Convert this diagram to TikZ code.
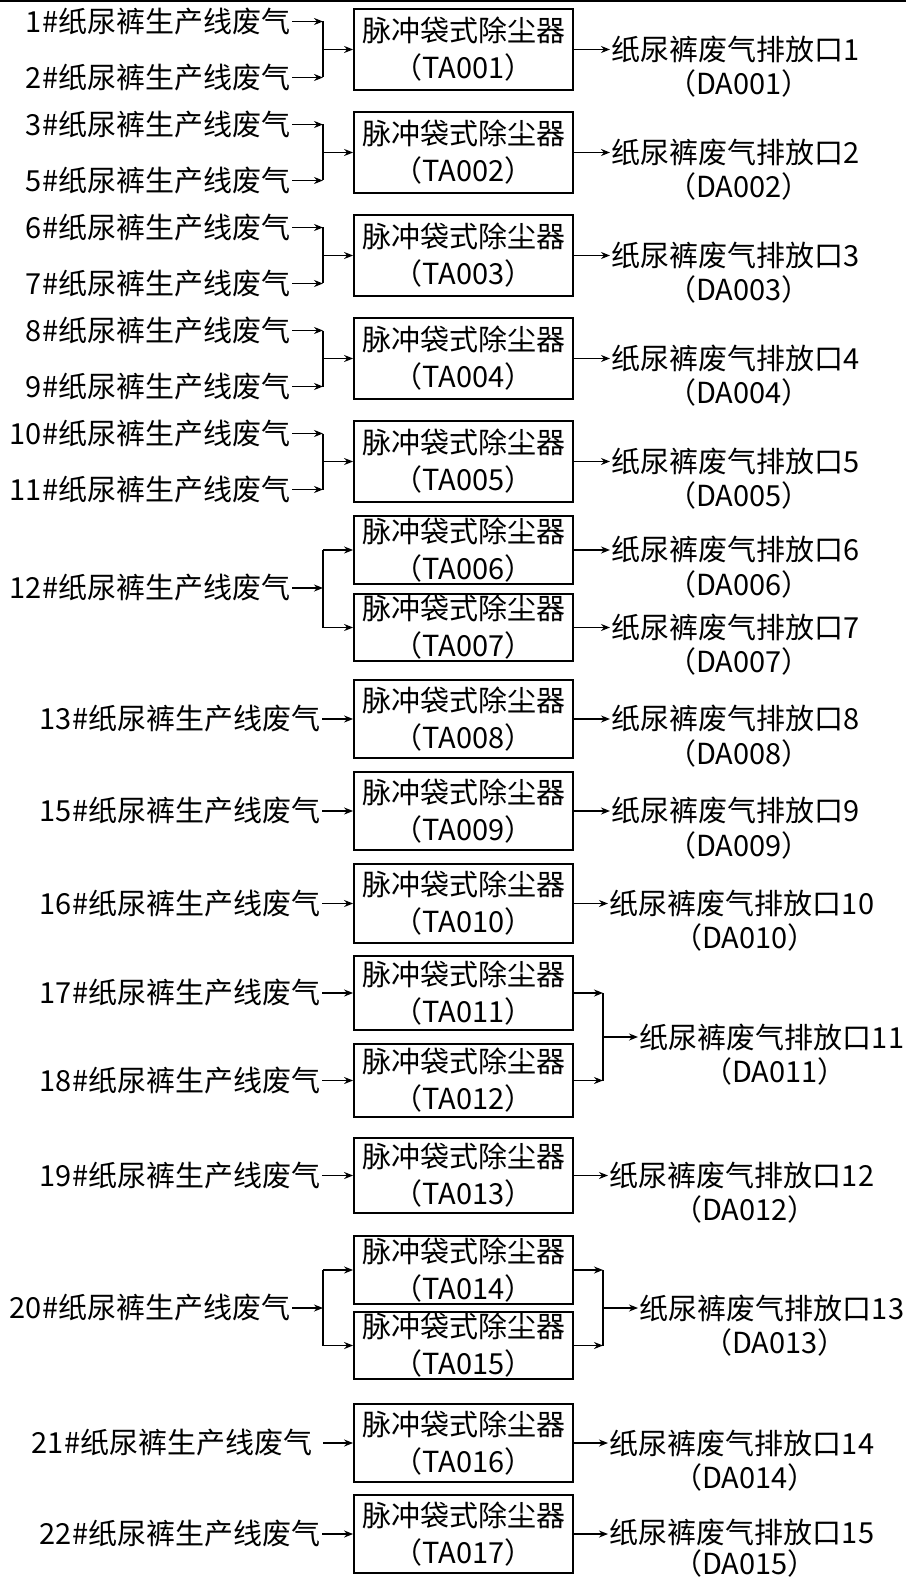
\documentclass[tikz,border=0pt]{standalone}
\usepackage{fontspec}
\setmainfont{Noto Sans CJK SC}
\usetikzlibrary{arrows.meta}

\begin{document}
\begin{tikzpicture}[x=1pt, y=-1pt, line width=1.8pt,
    every node/.style={font=\fontsize{29pt}{37pt}\selectfont, inner sep=1pt},
    box/.style={draw, minimum width=219pt, align=center, inner sep=0pt},
    src/.style={anchor=east},
    outlet/.style={anchor=west},
    flow/.style={-{Stealth[length=9pt,width=7pt]}}]

    \useasboundingbox (0,0) rectangle (906,1578);
    \draw[line width=2pt] (0,1) -- (906,1);

    % dust collectors
    \foreach \i/\top/\bot in {1/9/90, 2/112/193, 3/215/296, 4/318/399, 5/421/502,
        6/516/584, 7/594/661, 8/680/758, 9/772/850, 10/864/943, 11/956/1030,
        12/1044/1117, 13/1138/1213, 14/1236/1304, 15/1312/1379, 16/1404/1482, 17/1495/1573}
        \node[box, minimum height={(\bot-\top)*1pt}] (b\i) at (463.5,{(\top+\bot)/2})
            {脉冲袋式除尘器\\（TA0\ifnum\i<10 0\fi\i）};

    % production lines
    \node[src] (l1) at (292,21.5) {1\#纸尿裤生产线废气};
    \node[src] (l2) at (292,77.5) {2\#纸尿裤生产线废气};
    \node[src] (l3) at (292,124.5) {3\#纸尿裤生产线废气};
    \node[src] (l5) at (292,180.5) {5\#纸尿裤生产线废气};
    \node[src] (l6) at (292,227.5) {6\#纸尿裤生产线废气};
    \node[src] (l7) at (292,283.5) {7\#纸尿裤生产线废气};
    \node[src] (l8) at (292,330.5) {8\#纸尿裤生产线废气};
    \node[src] (l9) at (292,386.5) {9\#纸尿裤生产线废气};
    \node[src] (l10) at (292,433.5) {10\#纸尿裤生产线废气};
    \node[src] (l11) at (292,489.5) {11\#纸尿裤生产线废气};
    \node[src] (l12) at (292,588) {12\#纸尿裤生产线废气};
    \node[src] (l13) at (322,719) {13\#纸尿裤生产线废气};
    \node[src] (l15) at (322,811) {15\#纸尿裤生产线废气};
    \node[src] (l16) at (322,903.5) {16\#纸尿裤生产线废气};
    \node[src] (l17) at (322,993) {17\#纸尿裤生产线废气};
    \node[src] (l18) at (322,1080.5) {18\#纸尿裤生产线废气};
    \node[src] (l19) at (322,1175.5) {19\#纸尿裤生产线废气};
    \node[src] (l20) at (292,1308) {20\#纸尿裤生产线废气};
    \node[src] (l21) at (314,1443) {21\#纸尿裤生产线废气};
    \node[src] (l22) at (322,1534) {22\#纸尿裤生产线废气};

    % outlets
    \node[outlet] (o1) at (610,49.5) {纸尿裤废气排放口1};
    \node[outlet] (o2) at (610,152.5) {纸尿裤废气排放口2};
    \node[outlet] (o3) at (610,255.5) {纸尿裤废气排放口3};
    \node[outlet] (o4) at (610,358.5) {纸尿裤废气排放口4};
    \node[outlet] (o5) at (610,461.5) {纸尿裤废气排放口5};
    \node[outlet] (o6) at (610,550) {纸尿裤废气排放口6};
    \node[outlet] (o7) at (610,627.5) {纸尿裤废气排放口7};
    \node[outlet] (o8) at (610,719) {纸尿裤废气排放口8};
    \node[outlet] (o9) at (610,811) {纸尿裤废气排放口9};
    \node[outlet] (o10) at (608,903.5) {纸尿裤废气排放口10};
    \node[outlet] (o11) at (638,1037) {纸尿裤废气排放口11};
    \node[outlet] (o12) at (608,1175.5) {纸尿裤废气排放口12};
    \node[outlet] (o13) at (638,1308) {纸尿裤废气排放口13};
    \node[outlet] (o14) at (608,1443) {纸尿裤废气排放口14};
    \node[outlet] (o15) at (608,1532) {纸尿裤废气排放口15};
    \foreach \i in {1,...,14}
        \node (d\i) at ([xshift=3pt,yshift=-34pt]o\i.center) {（DA0\ifnum\i<10 0\fi\i）};
    \node (d15) at ([xshift=3pt,yshift=-31pt]o15.center) {（DA015）};

    % two lines into one collector
    \coordinate (j1) at (323,49.5);
    \coordinate (j2) at (323,152.5);
    \coordinate (j3) at (323,255.5);
    \coordinate (j4) at (323,358.5);
    \coordinate (j5) at (323,461.5);
    \foreach \j/\a/\b in {1/1/2, 2/3/5, 3/6/7, 4/8/9, 5/10/11} {
        \draw[flow] (l\a) -- (l\a -| j\j);
        \draw[flow] (l\b) -- (l\b -| j\j);
        \draw (l\a -| j\j) -- (l\b -| j\j);
        \draw[flow] (j\j) -- (b\j);
    }
    \foreach \i in {1,...,5}
        \draw[flow] (b\i) -- (o\i);

    % one line into two collectors
    \coordinate (j6) at (323,588);
    \draw[flow] (l12) -- (j6);
    \draw (j6 |- b6) -- (j6 |- b7);
    \draw[flow] (j6 |- b6) -- (b6);
    \draw[flow] (j6 |- b7) -- (b7);
    \draw[flow] (b6) -- (o6);
    \draw[flow] (b7) -- (o7);

    % one line, one collector
    \draw[flow] (l13) -- (b8);
    \draw[flow] (l15) -- (b9);
    \draw[flow] (l16) -- (b10);
    \draw[flow] (l17) -- (b11);
    \draw[flow] (l18) -- (b12);
    \draw[flow] (l19) -- (b13);
    \draw[flow] (l21.east) ++(9,0) -- (b16);
    \draw[flow] (l22) -- (b17);
    \draw[flow] (b8) -- (o8);
    \draw[flow] (b9) -- (o9);
    \draw[flow] (b10) -- (o10);
    \draw[flow] (b13) -- (o12);
    \draw[flow] (b16) -- (o14);
    \draw[flow] (b17) -- (b17 -| o15.west);

    % two collectors into one outlet
    \coordinate (k11) at (603,1037);
    \draw[flow] (b11) -- (b11 -| k11);
    \draw[flow] (b12) -- (b12 -| k11);
    \draw (b11 -| k11) -- (b12 -| k11);
    \draw[flow] (k11) -- (o11);

    \coordinate (j7) at (323,1308);
    \coordinate (k13) at (603,1308);
    \draw[flow] (l20) -- (j7);
    \draw (j7 |- b14) -- (j7 |- b15);
    \draw[flow] (j7 |- b14) -- (b14);
    \draw[flow] (j7 |- b15) -- (b15);
    \draw[flow] (b14) -- (b14 -| k13);
    \draw[flow] (b15) -- (b15 -| k13);
    \draw (b14 -| k13) -- (b15 -| k13);
    \draw[flow] (k13) -- (o13);

\end{tikzpicture}
\end{document}
